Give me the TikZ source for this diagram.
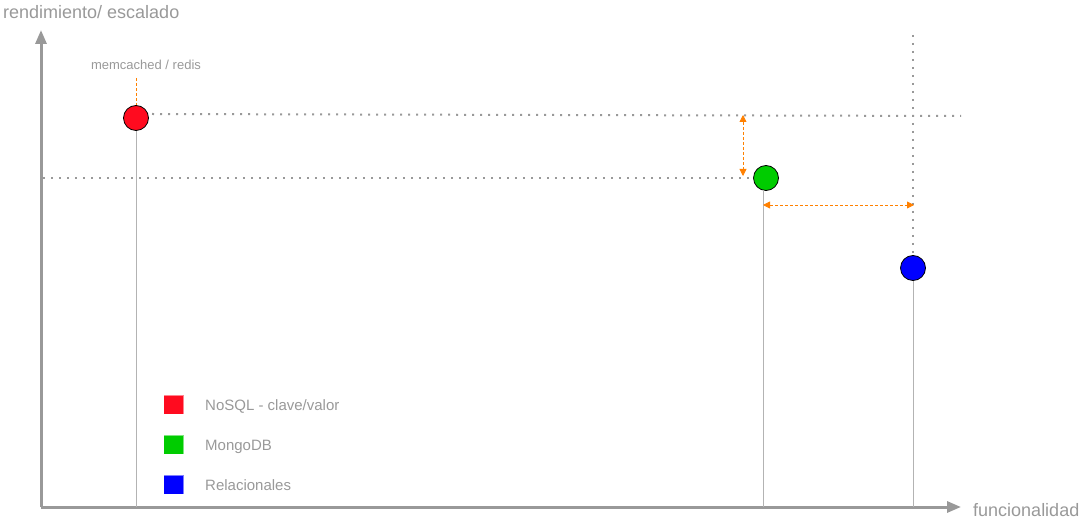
\documentclass[tikz,border=0pt]{standalone}
\usepackage{fontspec}
\setmainfont{Liberation Sans}
\usetikzlibrary{arrows.meta}
\definecolor{axisgray}{HTML}{999999}
\definecolor{txtgray}{HTML}{999999}
\definecolor{lingray}{HTML}{B3B3B3}
\definecolor{dotgray}{HTML}{999999}
\definecolor{orng}{HTML}{FF8000}
\definecolor{cred}{HTML}{FF0B1F}
\definecolor{cgreen}{HTML}{00CC00}
\definecolor{cblue}{HTML}{0000FF}
\tikzset{
  axis/.style={draw=axisgray, line width=3pt, -{Triangle[length=14pt,width=11pt]}},
  dot/.style={circle, draw=black, line width=0.8pt, minimum size=25pt, inner sep=0pt},
  stem/.style={draw=lingray, line width=1pt},
  dotline/.style={draw=dotgray, line width=2pt, dash pattern=on 2pt off 6pt},
  odash/.style={draw=orng, line width=0.8pt, dash pattern=on 3pt off 2pt},
  odarrow/.style={odash, {Triangle[length=7pt,width=7pt]}-{Triangle[length=7pt,width=7pt]}},
  lbl/.style={text=txtgray, inner sep=0pt},
  legsq/.style={minimum width=19pt, minimum height=18pt, inner sep=0pt, draw opacity=0.5},
  legtxt/.style={lbl, font=\fontsize{15pt}{17pt}\selectfont, anchor=base west},
}
\begin{document}
\begin{tikzpicture}[x=1pt,y=-1pt]
\useasboundingbox (0,0) rectangle (1079,521);
% axes
\coordinate (O) at (41,507);
\coordinate (Ytop) at (41,30);
\coordinate (Xend) at (961,507);
\draw[axis] (O) -- (Ytop);
\draw[axis] (O) -- (Xend);
\node[lbl, font=\fontsize{18pt}{20pt}\selectfont, anchor=base west] (ylab) at (3,19) {rendimiento/ escalado};
\node[lbl, font=\fontsize{18pt}{20pt}\selectfont, anchor=base west] (xlab) at (973,516) {funcionalidad};
% circles
\node[dot, fill=cred] (r) at (136,118) {};
\node[dot, fill=cgreen] (g) at (766,178) {};
\node[dot, fill=cblue] (b) at (913,268) {};
% stems
\coordinate (rb) at (136,507);
\coordinate (gb) at (763,507);
\coordinate (gt) at (763,190.5);
\coordinate (bb) at (913,507);
\draw[stem] (r.south) -- (rb);
\draw[stem] (gt) -- (gb);
\draw[stem] (b.south) -- (bb);
% dotted guides
\coordinate (rStart) at (152,114);
\coordinate (rEnd) at (961,116);
\coordinate (gStart) at (43,178);
\coordinate (gEnd) at (750,178);
\coordinate (vTop) at (913,35);
\coordinate (vEnd) at (913,254);
\draw[dotline] (rStart) -- (rEnd);
\draw[dotline] (gStart) -- (gEnd);
\draw[dotline] (vTop) -- (vEnd);
% memcached label
\node[lbl, font=\fontsize{13pt}{15pt}\selectfont, anchor=base] (mem) at (146,70) {memcached / redis};
\coordinate (memb) at (136,78);
\draw[odash] (memb) -- (r.north);
% orange double arrows
\coordinate (va) at (743,115);
\coordinate (vb) at (743,176);
\draw[odarrow] (va) -- (vb);
\coordinate (ha) at (763,205);
\coordinate (hb) at (914,205);
\draw[odarrow] (ha) -- (hb);
% legend
\node[legsq, fill=cred, draw=cred] (l1) at (173.5,404.5) {};
\node[legsq, fill=cgreen, draw=cgreen] (l2) at (173.5,444.5) {};
\node[legsq, fill=cblue, draw=cblue] (l3) at (173.5,484.5) {};
\node[legtxt] (t1) at (205,410.5) {NoSQL - clave/valor};
\node[legtxt] (t2) at (205,450.5) {MongoDB};
\node[legtxt] (t3) at (205,490.5) {Relacionales};
\end{tikzpicture}
\end{document}
